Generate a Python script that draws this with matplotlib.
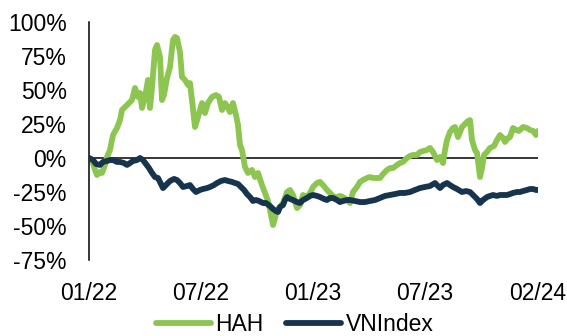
import matplotlib
matplotlib.use("Agg")
import matplotlib.pyplot as plt
import numpy as np

# Trading-day style index (0 = 01/22, 449 = 02/24) and cumulative return (%)
hah_x = [0, 3, 6, 8, 11, 13, 16, 18, 21, 24, 28, 31, 33, 36, 39, 43, 46, 49, 51, 53,
         56, 59, 61, 63, 66, 68, 71, 73, 75, 78, 81, 84, 86, 88, 91, 93, 96, 99, 101, 103,
         106, 109, 113, 116, 119, 123, 127, 130, 133, 136, 138, 141, 144, 147, 149, 151, 153, 156, 159, 163,
         166, 169, 173, 176, 179, 181, 184, 186, 188, 191, 194, 198, 201, 204, 208, 211, 214, 218, 221, 224,
         228, 231, 234, 238, 241, 245, 248, 251, 254, 258, 261, 264, 268, 271, 274, 278, 281, 284, 288, 291,
         294, 298, 301, 304, 308, 311, 314, 318, 321, 324, 328, 331, 334, 338, 341, 344, 348, 351, 354, 356,
         358, 361, 364, 366, 369, 373, 376, 379, 381, 383, 386, 388, 391, 393, 395, 398, 401, 405, 408, 411,
         414, 416, 419, 421, 424, 427, 430, 434, 438, 441, 444, 447, 449]
hah_y = [0, -1.5, -8.8, -12.5, -10.3, -11.0, -5.1, 0.7, 5.9, 16.9, 22.1, 27.9, 35.3, 37.5, 39.7, 42.6, 51.5, 44.9, 47.8, 36.8,
         44.9, 57.4, 36.8, 51.5, 79.4, 83.1, 74.3, 42.6, 46.3, 58.8, 66.9, 86.8, 89.0, 88.2, 77.9, 59.6, 57.4, 53.7, 55.1, 42.6,
         22.8, 30.1, 40.4, 33.1, 40.4, 44.9, 46.3, 44.9, 35.3, 40.4, 38.2, 33.8, 40.4, 31.6, 24.3, 9.6, 5.9, -6.6, -11.0, -8.8,
         -14.0, -11.0, -19.9, -25.7, -31.6, -38.2, -49.3, -44.1, -38.2, -36.0, -33.1, -25.0, -23.5, -27.2, -36.8, -34.6, -27.2, -28.7, -25.7, -21.3,
         -18.4, -17.6, -19.9, -23.5, -25.7, -28.7, -28.7, -27.9, -28.7, -30.9, -33.1, -25.0, -21.3, -17.6, -16.2, -14.7, -14.0, -14.7, -14.7, -14.7,
         -11.8, -8.8, -7.4, -7.4, -5.1, -3.7, -2.9, 0.0, 1.5, 2.2, 2.2, 4.4, 5.1, 5.9, 7.4, 4.4, -1.5, 0.7, -3.7, 5.9,
         13.2, 19.1, 22.1, 22.8, 15.4, 22.8, 25.0, 27.2, 27.9, 13.2, 5.9, 3.7, -14.0, -7.4, 2.2, 4.4, 7.4, 8.8, 13.2, 16.9,
         14.7, 11.8, 14.7, 15.4, 22.1, 20.6, 19.9, 22.8, 22.1, 20.6, 19.9, 16.9, 19.9]

vni_x = [0, 4, 7, 11, 14, 18, 21, 24, 28, 31, 35, 38, 41, 44, 48, 51, 54, 57, 60, 63,
         66, 69, 71, 74, 77, 81, 85, 88, 91, 94, 98, 101, 104, 107, 111, 114, 118, 121, 125, 128,
         132, 136, 139, 143, 146, 149, 152, 155, 158, 161, 164, 167, 170, 174, 177, 181, 184, 187, 189, 191,
         194, 196, 198, 201, 204, 208, 211, 214, 218, 221, 224, 228, 231, 235, 238, 241, 244, 248, 251, 254,
         258, 261, 266, 271, 276, 281, 286, 291, 296, 301, 306, 311, 316, 321, 326, 331, 336, 341, 346, 349,
         351, 354, 358, 361, 364, 368, 373, 377, 381, 385, 388, 391, 394, 398, 401, 404, 408, 411, 415, 418,
         421, 424, 428, 431, 434, 438, 441, 444, 447, 449]
vni_y = [0, -1.5, -4.4, -5.1, -2.9, -2.2, -1.5, -1.5, -2.9, -2.9, -3.7, -5.1, -3.7, -2.2, -1.5, 0.0, -1.5, -4.4, -7.4, -11.0,
         -14.0, -14.7, -17.6, -22.1, -19.9, -16.9, -15.4, -16.2, -18.4, -21.3, -20.6, -19.9, -22.8, -25.0, -23.5, -22.8, -22.1, -21.3, -19.9, -18.4,
         -16.9, -16.2, -16.9, -17.6, -18.4, -19.1, -21.3, -23.5, -26.5, -28.7, -31.6, -30.9, -31.6, -33.1, -33.1, -35.3, -37.5, -39.0, -39.7, -36.0,
         -34.6, -30.9, -28.7, -30.1, -30.9, -32.4, -33.1, -30.9, -29.4, -27.9, -27.2, -27.9, -28.7, -30.1, -30.9, -29.4, -29.4, -30.9, -32.4, -31.6,
         -30.9, -30.9, -31.6, -32.4, -32.4, -31.6, -30.9, -29.4, -27.9, -27.2, -26.5, -25.7, -25.7, -25.0, -23.5, -22.1, -21.3, -20.6, -18.4, -20.6,
         -22.1, -19.9, -18.4, -19.9, -21.3, -22.8, -25.0, -24.3, -25.0, -27.9, -30.1, -33.1, -30.9, -28.7, -27.9, -27.2, -27.9, -27.2, -27.2, -27.2,
         -26.5, -25.7, -25.0, -25.0, -24.3, -23.5, -22.8, -22.8, -23.5, -23.5]

tick_pos = [0, 112, 224, 336, 449]
tick_labels = ["01/22", "07/22", "01/23", "07/23", "02/24"]
y_ticks = [-75, -50, -25, 0, 25, 50, 75, 100]
series_names = ["HAH", "VNIndex"]

plt.rcParams['font.family'] = ['Liberation Sans', 'DejaVu Sans']

fig = plt.figure(figsize=(5.67, 3.36), dpi=100)
ax = fig.add_axes([89/567, 1-260/336, (538-89)/567, (260-22)/336])

ax.axhline(0, color='black', lw=1.1, zorder=1)
ax.plot(hah_x, hah_y, color='#8CC651', lw=4.2, label=series_names[0], zorder=2,
        solid_joinstyle='round', solid_capstyle='round')
ax.plot(vni_x, vni_y, color='#17344F', lw=4.2, label=series_names[1], zorder=3,
        solid_joinstyle='round', solid_capstyle='round')

ax.set_xlim(0, 449)
ax.set_ylim(-75, 100)
ax.set_yticks(y_ticks)
ax.set_yticklabels([f"{v}%" for v in y_ticks])
ax.set_xticks(tick_pos)
ax.set_xticklabels(tick_labels)
ax.tick_params(axis='both', length=0, labelsize=16.5, colors='black')
ax.tick_params(axis='y', pad=16)
ax.tick_params(axis='x', pad=16)
for s in ['top', 'right', 'bottom']:
    ax.spines[s].set_visible(False)
ax.spines['left'].set_color('black')
ax.spines['left'].set_linewidth(1.1)

fig.legend(loc='lower center', bbox_to_anchor=(0.52, -0.06), ncol=2, frameon=False,
           fontsize=16.5, handlelength=2.4, handletextpad=0.2, columnspacing=1.0)

fig.savefig("out.png", dpi=100)
